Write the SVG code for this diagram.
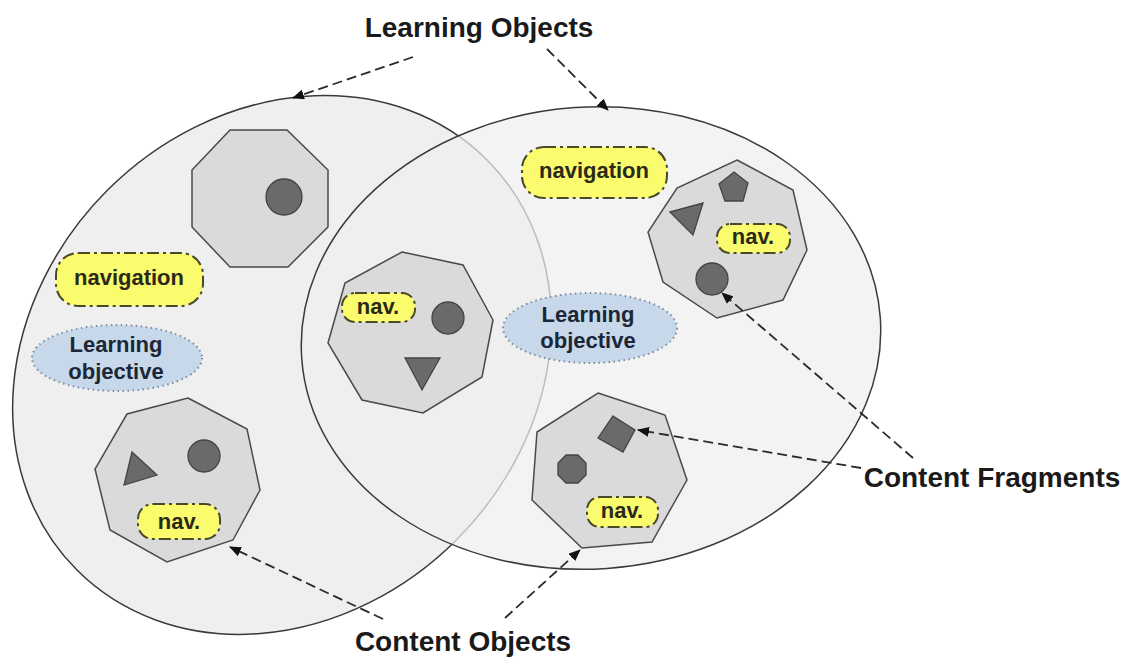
<svg xmlns="http://www.w3.org/2000/svg" width="1128" height="657" viewBox="0 0 1128 657">
<style>
  .lo { fill:#efefef; stroke:#3a3a3a; stroke-width:1.5; }
  .co { fill:#dadada; stroke:#4a4a4a; stroke-width:1.5; stroke-linejoin:miter; }
  .cf { fill:#6a6a6a; stroke:#444; stroke-width:1.3; }
  .nav { fill:#fbfb6e; stroke:#4a4a2a; stroke-width:2; stroke-dasharray:12 4 3 4; }
  .obj { fill:#c6d8ea; stroke:#7c8aa0; stroke-width:2; stroke-dasharray:1.5 3.5; }
  .t { font-family:"Liberation Sans", Arial, sans-serif; font-weight:bold; text-anchor:middle; }
  .big { font-size:28px; fill:#1a1a1a; }
  .small { font-size:22px; fill:#2a2a18; }
  .objt { font-size:22px; fill:#1c2636; }
  .conn { fill:none; stroke:#2a2a2a; stroke-width:1.8; stroke-dasharray:10 5; }
</style>
<defs>
  <marker id="ah" viewBox="0 0 12 10" refX="11" refY="5" markerWidth="12" markerHeight="10" markerUnits="userSpaceOnUse" orient="auto">
    <path d="M0,0 L12,5 L0,10 Z" fill="#111"/>
  </marker>
</defs>

<g id="learning-object-left">
  <ellipse class="lo" cx="282" cy="365" rx="290" ry="247" transform="rotate(-45 282 365)"/>
</g>
<g id="learning-object-right">
  <ellipse class="lo" cx="591" cy="338" rx="290" ry="231" fill-opacity="0.72" transform="rotate(-4 591 338)"/>
</g>

<g id="content-object-top-left">
  <polygon class="co" points="230,130 287,130 328,170 328,227 288,267 230,267 192,227 192,170"/>
  <circle class="cf" cx="284" cy="197" r="18"/>
</g>

<g id="navigation-left">
  <rect class="nav" x="56" y="253" width="147" height="53" rx="22"/>
  <text class="t small" x="129" y="285">navigation</text>
</g>

<g id="learning-objective-left">
  <ellipse class="obj" cx="117" cy="358" rx="85" ry="33"/>
  <text class="t objt" x="116" y="352">Learning</text>
  <text class="t objt" x="116" y="379">objective</text>
</g>

<g id="content-object-middle">
  <polygon class="co" points="402,252 463,265 493,320 482,377 423,413 362,400 328,343 345,283"/>
  <rect class="nav" x="342" y="293" width="73" height="29" rx="13"/>
  <text class="t small" x="378" y="314">nav.</text>
  <circle class="cf" cx="448" cy="318" r="16"/>
  <polygon class="cf" points="405,358 440,358 422,390"/>
</g>

<g id="learning-objective-middle">
  <ellipse class="obj" cx="590" cy="328" rx="87" ry="35"/>
  <text class="t objt" x="588" y="322">Learning</text>
  <text class="t objt" x="588" y="348">objective</text>
</g>

<g id="navigation-right">
  <rect class="nav" x="522" y="147" width="145" height="51" rx="22"/>
  <text class="t small" x="594" y="178">navigation</text>
</g>

<g id="content-object-top-right">
  <polygon class="co" points="737,160 793,190 807,250 783,300 717,318 663,282 648,232 677,188"/>
  <polygon class="cf" points="734,172 748,183 743,201 725,201 719,184"/>
  <polygon class="cf" points="670,212 703,203 693,235"/>
  <rect class="nav" x="717" y="224" width="73" height="29" rx="13"/>
  <text class="t small" x="753" y="244">nav.</text>
  <circle class="cf" cx="712" cy="279" r="16"/>
</g>

<g id="content-object-bottom-left">
  <polygon class="co" points="188,398 247,429 260,490 233,540 167,562 110,530 95,469 127,414"/>
  <polygon class="cf" points="132,452 157,475 124,485"/>
  <circle class="cf" cx="204" cy="456" r="16"/>
  <rect class="nav" x="138" y="504" width="82" height="35" rx="15"/>
  <text class="t small" x="179" y="529">nav.</text>
</g>

<g id="content-object-bottom-right">
  <polygon class="co" points="598,393 665,415 687,480 652,542 582,548 532,500 537,432"/>
  <polygon class="cf" points="566,455 578,455 586,463 586,475 578,483 566,483 558,475 558,463"/>
  <polygon class="cf" points="613,416 635,430 623,452 598,438"/>
  <rect class="nav" x="587" y="497" width="71" height="30" rx="13"/>
  <text class="t small" x="622" y="518">nav.</text>
</g>

<g id="label-learning-objects">
  <text class="t big" x="479" y="37">Learning Objects</text>
</g>
<g id="label-content-objects">
  <text class="t big" x="463" y="651">Content Objects</text>
</g>
<g id="label-content-fragments">
  <text class="t big" x="992" y="487">Content Fragments</text>
</g>

<g id="connectors">
  <path class="conn" d="M413,57 L293,98" marker-end="url(#ah)"/>
  <path class="conn" d="M547,49 L608,110" marker-end="url(#ah)"/>
  <path class="conn" d="M383,619 L230,547" marker-end="url(#ah)"/>
  <path class="conn" d="M505,618 L580,550" marker-end="url(#ah)"/>
  <path class="conn" d="M913,458 L722,293" marker-end="url(#ah)"/>
  <path class="conn" d="M861,468 L638,430" marker-end="url(#ah)"/>
</g>
</svg>
